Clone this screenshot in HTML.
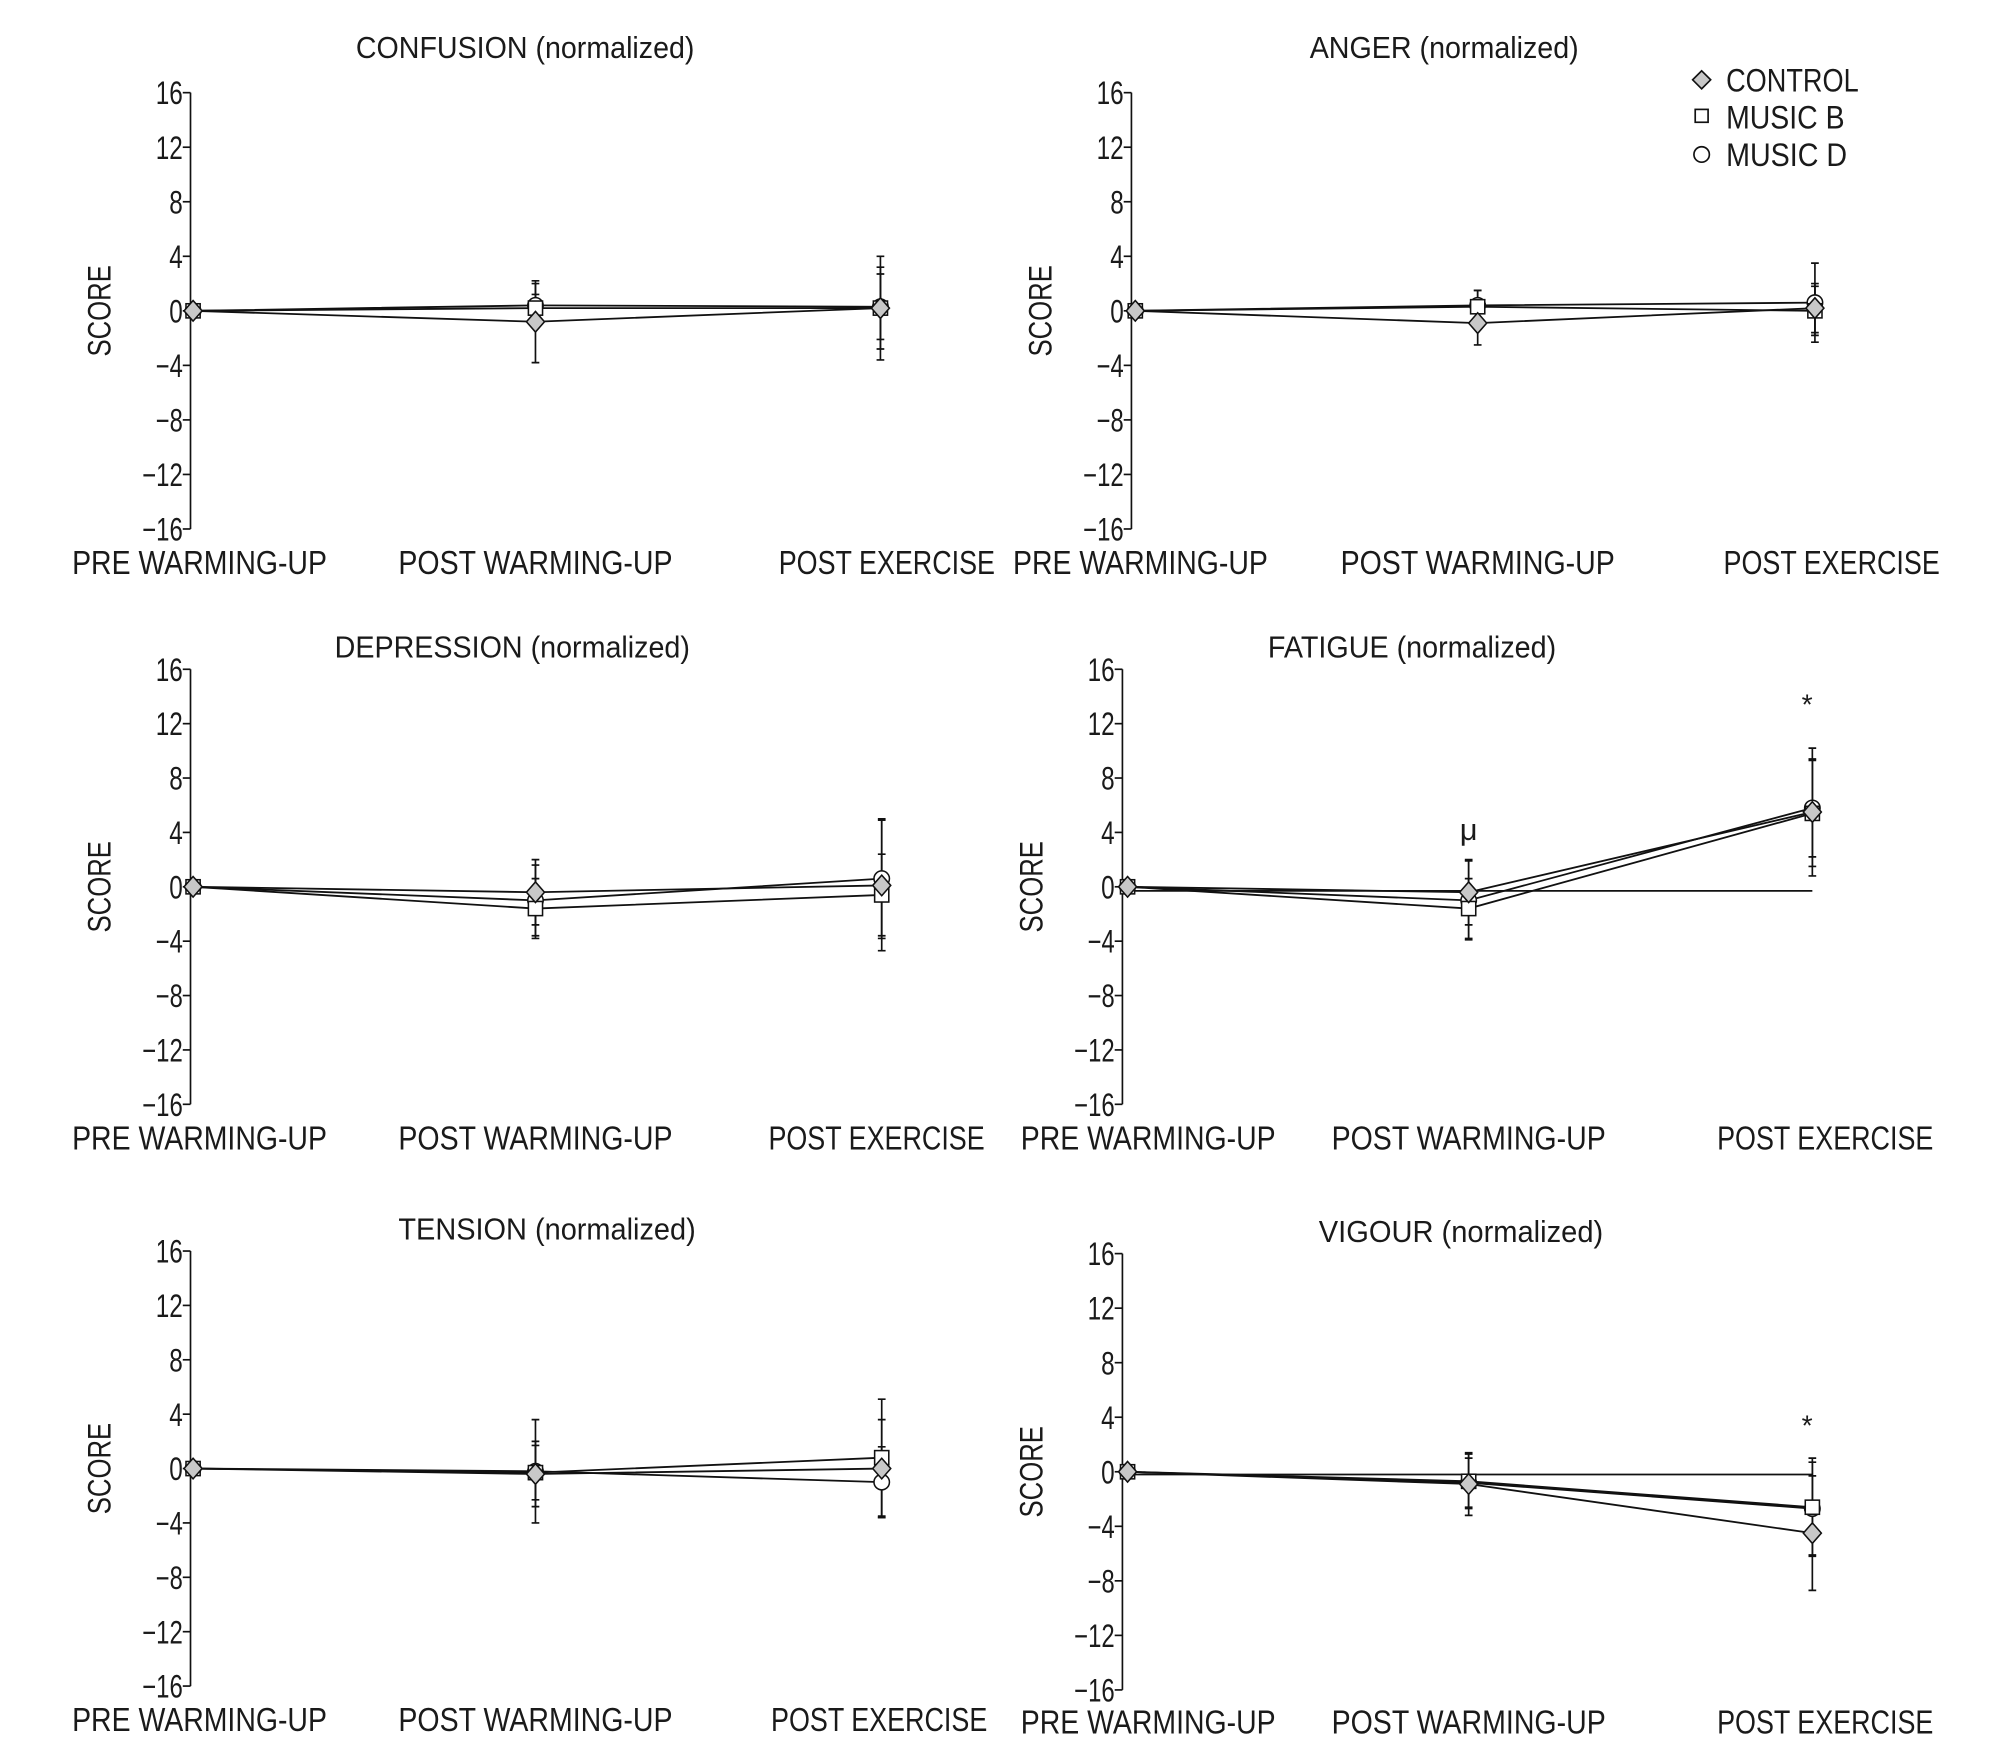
<!DOCTYPE html>
<html><head><meta charset="utf-8"><style>
html,body{margin:0;padding:0;background:#fff;}
svg{display:block;}
text{font-family:"Liberation Sans Narrow","Liberation Sans",sans-serif;fill:#1a1a1a;}
</style></head><body>
<svg id="fig" width="2008" height="1762" viewBox="0 0 1560 1369" preserveAspectRatio="none" xmlns="http://www.w3.org/2000/svg">
<g>
  <polygon points="1322,55 1329,62 1322,69 1315,62" fill="#c8c8c8" stroke="#111" stroke-width="1.3"/>
  <text x="1341" y="71" font-size="25" textLength="103" lengthAdjust="spacingAndGlyphs">CONTROL</text>
  <rect x="1317" y="85" width="10" height="10" fill="#fff" stroke="#111" stroke-width="1.3"/>
  <text x="1341" y="100" font-size="25" textLength="92" lengthAdjust="spacingAndGlyphs">MUSIC B</text>
  <circle cx="1322" cy="120" r="6" fill="#fff" stroke="#111" stroke-width="1.3"/>
  <text x="1341" y="129" font-size="25" textLength="94" lengthAdjust="spacingAndGlyphs">MUSIC D</text>
</g>
</svg>
<script>
const categories = ["PRE WARMING-UP","POST WARMING-UP","POST EXERCISE"];
const yTicks = [16,12,8,4,0,-4,-8,-12,-16];
const yTickLabels = ["16","12","8","4","0","\u22124","\u22128","\u221212","\u221216"];

const confusionControl = [0,-0.8,0.2];
const confusionMusicB = [0,0.2,0.2];
const confusionMusicD = [0,0.4,0.3];
const confusionControlErr = [0,3.0,3.0];
const confusionMusicBErr = [0,1.0,3.8];
const confusionMusicDErr = [0,1.6,2.4];

const angerControl = [0,-0.9,0.2];
const angerMusicB = [0,0.3,0];
const angerMusicD = [0,0.4,0.6];
const angerControlErr = [0,1.6,1.8];
const angerMusicBErr = [0,1.2,1.8];
const angerMusicDErr = [0,1.1,2.9];

const depressionControl = [0,-0.4,0.1];
const depressionMusicB = [0,-1.6,-0.6];
const depressionMusicD = [0,-1.0,0.6];
const depressionControlErr = [0,2.4,4.8];
const depressionMusicBErr = [0,2.2,3.0];
const depressionMusicDErr = [0,2.6,4.4];

const fatigueControl = [0,-0.4,5.5];
const fatigueMusicB = [0,-1.6,5.4];
const fatigueMusicD = [0,-1.0,5.8];
const fatigueControlErr = [0,2.4,4.7];
const fatigueMusicBErr = [0,2.2,3.9];
const fatigueMusicDErr = [0,2.9,3.6];

const tensionControl = [0,-0.4,0];
const tensionMusicB = [0,-0.3,0.8];
const tensionMusicD = [0,-0.2,-1.0];
const tensionControlErr = [0,2.4,3.6];
const tensionMusicBErr = [0,2.0,4.3];
const tensionMusicDErr = [0,3.8,2.6];

const vigourControl = [0,-0.9,-4.5];
const vigourMusicB = [0,-0.7,-2.6];
const vigourMusicD = [0,-0.8,-2.7];
const vigourControlErr = [0,2.3,4.2];
const vigourMusicBErr = [0,2.0,3.6];
const vigourMusicDErr = [0,1.8,3.4];

const panelTitles = ["CONFUSION (normalized)","ANGER (normalized)","DEPRESSION (normalized)","FATIGUE (normalized)","TENSION (normalized)","VIGOUR (normalized)"];
const baselineValues = [null,null,null,-0.3,null,-0.2];

const NS="http://www.w3.org/2000/svg";
const svg=document.getElementById('fig');
function mk(tag,attrs,parent){const e=document.createElementNS(NS,tag);for(const k in attrs)e.setAttribute(k,attrs[k]);(parent||svg).appendChild(e);return e;}

const labelWidths=[198,213,168];
const layouts=[
 {ax:148,top:72,bot:411,cx:[150,416,684],title:408,tw:263,ty:36,lx:[155,416,689],ly:437},
 {ax:879,top:72,bot:411,cx:[882,1148,1410],title:1122,tw:209,ty:36,lx:[886,1148,1423],ly:437},
 {ax:148,top:520,bot:858,cx:[150,416,685],title:398,tw:276,ty:502,lx:[155,416,681],ly:884},
 {ax:872,top:520,bot:858,cx:[876,1141,1408],title:1097,tw:224,ty:502,lx:[892,1141,1418],ly:884},
 {ax:148,top:972,bot:1310,cx:[150,416,685],title:425,tw:231,ty:954,lx:[155,416,683],ly:1336},
 {ax:872,top:974,bot:1313,cx:[876,1141,1408],title:1135,tw:221,ty:956,lx:[892,1141,1418],ly:1338}
];
const panelData=[
 [confusionControl,confusionMusicB,confusionMusicD,confusionControlErr,confusionMusicBErr,confusionMusicDErr],
 [angerControl,angerMusicB,angerMusicD,angerControlErr,angerMusicBErr,angerMusicDErr],
 [depressionControl,depressionMusicB,depressionMusicD,depressionControlErr,depressionMusicBErr,depressionMusicDErr],
 [fatigueControl,fatigueMusicB,fatigueMusicD,fatigueControlErr,fatigueMusicBErr,fatigueMusicDErr],
 [tensionControl,tensionMusicB,tensionMusicD,tensionControlErr,tensionMusicBErr,tensionMusicDErr],
 [vigourControl,vigourMusicB,vigourMusicD,vigourControlErr,vigourMusicBErr,vigourMusicDErr]
];
const seriesNames=["control","music-b","music-d"];

panelData.forEach((d,p)=>{
  const L=layouts[p];
  const g=mk('g',{});
  
  
  const y=v=>L.bot-(v+16)/32*(L.bot-L.top);
  const x=i=>L.cx[i];
  const t=mk('text',{x:L.title,y:L.ty+9,'font-size':24,'text-anchor':'middle',textLength:L.tw,lengthAdjust:'spacingAndGlyphs'},g);
  t.textContent=panelTitles[p];
  
  
  const axis=mk('line',{x1:L.ax,x2:L.ax,y1:L.top,y2:L.bot,stroke:'#111','stroke-width':1.3},g);
  
  
  yTicks.forEach((v,i)=>{
    const tk=mk('line',{x1:L.ax-6,x2:L.ax,y1:y(v),y2:y(v),stroke:'#111','stroke-width':1.3},g);
    
    
    const lbl=yTickLabels[i];
    const tl=mk('text',{x:L.ax-6,y:y(v)+9,'font-size':25,'text-anchor':'end',textLength:lbl.length*10.5,lengthAdjust:'spacingAndGlyphs'},g);
    tl.textContent=lbl;
    
    
  });
  const sl=mk('text',{x:0,y:0,'font-size':25,'text-anchor':'middle',textLength:71,lengthAdjust:'spacingAndGlyphs',transform:`translate(${L.ax-62},${y(0)}) rotate(-90)`},g);
  sl.textContent='SCORE';
  
  
  categories.forEach((c,i)=>{
    const xl=mk('text',{x:L.lx[i],y:L.ly+9,'font-size':26,'text-anchor':'middle',textLength:labelWidths[i],lengthAdjust:'spacingAndGlyphs'},g);
    xl.textContent=c;
    
    
  });
  if(baselineValues[p]!==null){
    const rl=mk('line',{x1:x(0),x2:x(2),y1:y(baselineValues[p]),y2:y(baselineValues[p]),stroke:'#111','stroke-width':1.3},g);
    
    
  }
  for(let s=0;s<3;s++){
    const vals=d[s],err=d[s+3];
    vals.forEach((v,i)=>{
      if(!err[i])return;
      const eb=mk('path',{d:`M${x(i)},${y(v-err[i])}V${y(v+err[i])}M${x(i)-3},${y(v-err[i])}h6M${x(i)-3},${y(v+err[i])}h6`,stroke:'#111','stroke-width':1.3,fill:'none'},g);
      
      
    });
  }
  for(let s=2;s>=0;s--){
    const vals=d[s];
    const ln=mk('polyline',{points:vals.map((v,i)=>x(i)+','+y(v)).join(' '),stroke:'#111','stroke-width':1.4,fill:'none'},g);
    
    
  }
  for(let s=2;s>=0;s--){
    d[s].forEach((v,i)=>{
      let m;
      const X=x(i),Y=y(v);
      if(s===0)m=mk('polygon',{points:`${X},${Y-8} ${X+7},${Y} ${X},${Y+8} ${X-7},${Y}`,fill:'#c8c8c8',stroke:'#111','stroke-width':1.2},g);
      else if(s===1)m=mk('rect',{x:X-5.5,y:Y-5.5,width:11,height:11,fill:'#fff',stroke:'#111','stroke-width':1.2},g);
      else m=mk('circle',{cx:X,cy:Y,r:6,fill:'#fff',stroke:'#111','stroke-width':1.2},g);
      
      
    });
  }
  if(p===3){
    const mu=mk('text',{x:x(1),y:y(4.2)+8,'font-size':24,'text-anchor':'middle'},g);
    mu.textContent='\u03bc';
    
    
    const st=mk('text',{x:x(2)-4,y:y(13.8)+12,'font-size':22,'text-anchor':'middle'},g);
    st.textContent='*';
    
    
  }
  if(p===5){
    const st=mk('text',{x:x(2)-4,y:y(3.8)+12,'font-size':22,'text-anchor':'middle'},g);
    st.textContent='*';
    
    
  }
});
</script>
</body></html>
